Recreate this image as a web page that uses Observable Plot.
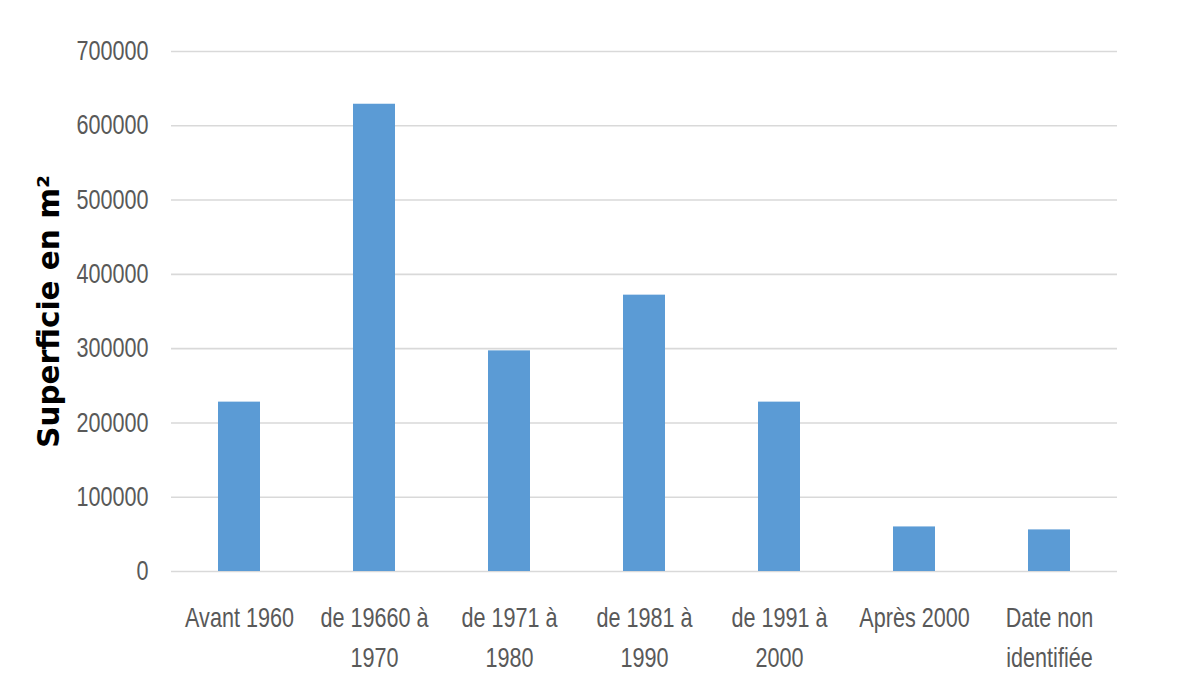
<!DOCTYPE html>
<html><head><meta charset="utf-8">
<script src="https://cdn.jsdelivr.net/npm/d3@7"></script>
<script src="https://cdn.jsdelivr.net/npm/@observablehq/plot@0.6"></script>
<style>body{margin:0;background:#fff}</style>
</head><body><div id="chart"></div>
<script>
const categories = ["Avant 1960", "de 19660 à 1970", "de 1971 à 1980", "de 1981 à 1990", "de 1991 à 2000", "Après 2000", "Date non identifiée"];
const tickLabels = ["Avant 1960", "de 19660 à\n1970", "de 1971 à\n1980", "de 1981 à\n1990", "de 1991 à\n2000", "Après 2000", "Date non\nidentifiée"];
const values = [228000, 629000, 297000, 372000, 228000, 60000, 56000];
const yTicks = [0, 100000, 200000, 300000, 400000, 500000, 600000, 700000];
const yTitle = "Superficie en m²";

const data = categories.map((c, i) => ({category: c, value: values[i]}));

const chart = Plot.plot({
  width: 1186, height: 696,
  marginLeft: 171, marginRight: 69, marginTop: 51, marginBottom: 125,
  style: {fontFamily: "'Liberation Sans', Arial, sans-serif", fontSize: "27px", color: "#595959", background: "#fff"},
  x: {domain: categories, paddingInner: 0.69, paddingOuter: 0.345, label: null},
  y: {domain: [0, 700000], label: null},
  marks: [
    Plot.ruleY(yTicks, {stroke: "#d9d9d9", strokeWidth: 1.6}),
    Plot.barY(data, {x: "category", y: "value", fill: "#5b9bd5"}),
    Plot.axisY({ticks: yTicks, tickSize: 0, tickPadding: 23, tickFormat: d => String(d), label: null}),
    Plot.axisX({tickSize: 0, tickPadding: 27, tickFormat: d => tickLabels[categories.indexOf(d)], lineHeight: 1.48, label: null}),
    Plot.text([yTitle], {frameAnchor: "left", textAnchor: "middle", rotate: -90, dx: -122, fontWeight: "bold", fontSize: 29.5, fontFamily: "'DejaVu Sans', sans-serif", fill: "#000"})
  ]
});

// condense tick label glyphs horizontally (the reference uses a narrow font)
d3.select(chart).selectAll("g[aria-label='x-axis tick label'] text, g[aria-label='y-axis tick label'] text").each(function() {
  const t = this.getAttribute("transform");
  if (t) {
    this.setAttribute("transform", t + " scale(0.8,1)");
  } else {
    const x = +(this.getAttribute("x") || 0), y = +(this.getAttribute("y") || 0);
    this.setAttribute("transform", `translate(${x},${y}) scale(0.8,1) translate(${-x},${-y})`);
  }
});
document.getElementById("chart").append(chart);
</script>
</body></html>
